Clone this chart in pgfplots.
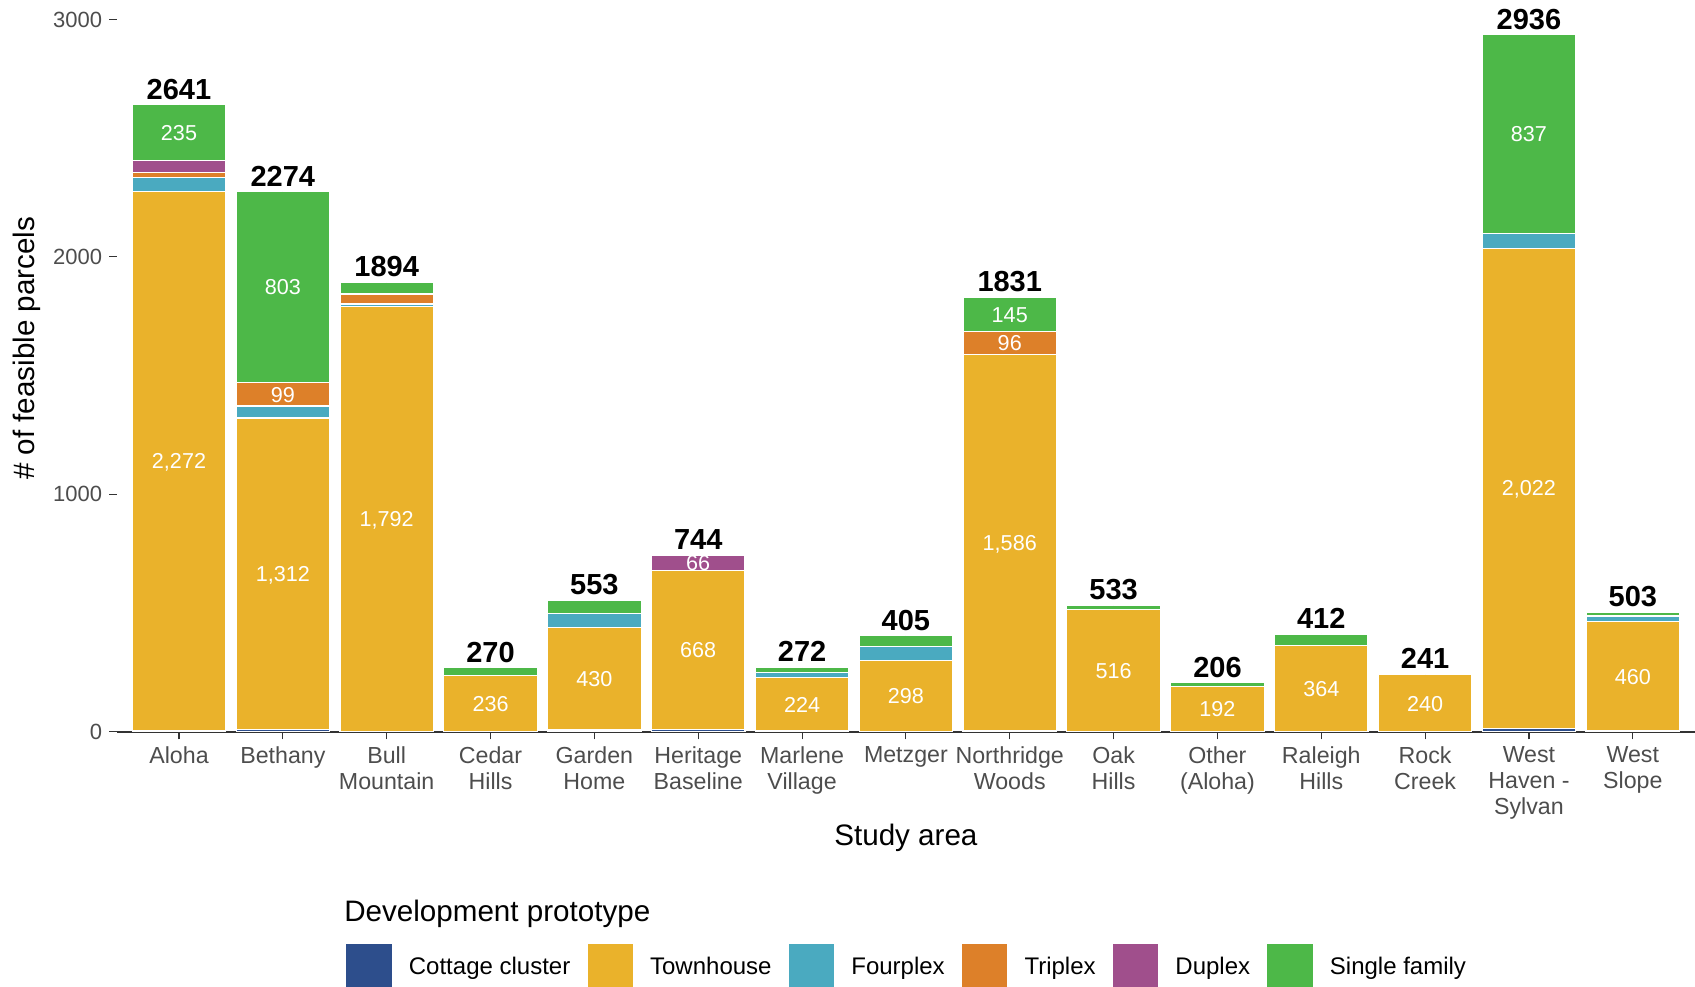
\documentclass[border=0pt]{standalone}
\usepackage{pgfplots}
\pgfplotsset{compat=1.18}
\usepackage{pgfplotstable}
\usepackage{fontspec}
\setmainfont{Liberation Sans}

\definecolor{ccottage}{RGB}{45,78,140}
\definecolor{ctown}{RGB}{234,178,43}
\definecolor{cfour}{RGB}{74,170,192}
\definecolor{ctri}{RGB}{221,128,41}
\definecolor{cdu}{RGB}{160,79,140}
\definecolor{csingle}{RGB}{77,184,72}
\definecolor{tickgray}{RGB}{77,77,77}
\definecolor{axgray}{RGB}{51,51,51}

\pgfplotstableread{
x cottage town four tri du single total
0 5 2272 58 21 50 235 2641
1 10 1312 50 99 0 803 2274
2 0 1792 10 42 0 50 1894
3 0 236 0 0 0 34 270
4 8 430 60 0 0 55 553
5 10 668 0 0 66 0 744
6 4 224 22 0 0 22 272
7 2 298 60 0 0 45 405
8 4 1586 0 96 0 145 1831
9 0 516 0 0 0 17 533
10 0 192 0 0 0 14 206
11 0 364 0 0 0 48 412
12 0 240 0 0 0 1 241
13 15 2022 62 0 0 837 2936
14 3 460 25 0 0 15 503
}\datatable

\pgfplotstableread{
x y label
0 1141 2,272
0 2523.5 235
1 666 1,312
1 1421.5 99
1 1872.5 803
2 896 1,792
3 118 236
4 223 430
5 344 668
5 711 66
6 116 224
7 151 298
8 797 1,586
8 1638 96
8 1758.5 145
9 258 516
10 96 192
11 182 364
12 120 240
13 1026 2,022
13 2517.5 837
14 233 460
}\seglabels

\pgfplotsset{
  commonax/.style={
    width=789.2pt, height=365.9pt, scale only axis,
    xmin=-0.6, xmax=14.6, ymin=0, ymax=3082,
  },
}

\begin{document}
\begin{tikzpicture}
\path[use as bounding box] (-58.35pt,-127.1pt) rectangle (789.15pt,365.9pt);
\begin{axis}[
  commonax,
  ybar stacked,
  bar width=0.9,
  axis x line*=bottom,
  axis y line*=left,
  y axis line style={draw=none},
  x axis line style={draw=axgray, line width=0.8pt},
  tick align=outside,
  major tick length=3.8pt,
  tick style={draw=axgray, line width=0.55pt},
  xtick={0,...,14},
  xticklabels={Aloha, Bethany, {Bull\\Mountain}, {Cedar\\Hills}, {Garden\\Home}, {Heritage\\Baseline}, {Marlene\\Village}, Metzger, {Northridge\\Woods}, {Oak\\Hills}, {Other\\(Aloha)}, {Raleigh\\Hills}, {Rock\\Creek}, {West\\Haven -\\Sylvan}, {West\\Slope}},
  xticklabel style={align=center, font=\fontsize{11.6}{13}\selectfont, text=tickgray},
  ytick={0,1000,2000,3000},
  yticklabel style={font=\fontsize{11}{12}\selectfont, text=tickgray, /pgf/number format/1000 sep={}},
  /pgf/number format/assume math mode=true,
  xlabel={Study area},
  xlabel style={font=\fontsize{14.8}{17}\selectfont, at={(axis description cs:0.5,0)}, anchor=center, yshift=-53pt},
  ylabel={\# of feasible parcels},
  ylabel style={font=\fontsize{14.8}{17}\selectfont, at={(axis description cs:-0.0569,0.524)}, anchor=center, rotate=0},
  every axis plot/.append style={draw=white, line width=0.6pt},
  legend columns=6,
  legend style={at={(axis description cs:0,0)}, anchor=north west, xshift=114.6pt, yshift=-106pt,
    draw=none, fill=none, inner sep=0pt, column sep=0pt,
    nodes={inner sep=0pt, font=\fontsize{12}{14}\selectfont},
    /tikz/every odd column/.append style={column sep=8.6pt},
    /tikz/every even column/.append style={column sep=8.6pt}},
  legend image code/.code={\fill[#1, draw=none] (0pt,-10.5pt) rectangle (22.7pt,11.5pt);},
]
\addplot[fill=ccottage] table[x=x, y=cottage] {\datatable};
\addlegendentry{Cottage cluster}
\addplot[fill=ctown] table[x=x, y=town] {\datatable};
\addlegendentry{Townhouse}
\addplot[fill=cfour] table[x=x, y=four] {\datatable};
\addlegendentry{Fourplex}
\addplot[fill=ctri] table[x=x, y=tri] {\datatable};
\addlegendentry{Triplex}
\addplot[fill=cdu] table[x=x, y=du] {\datatable};
\addlegendentry{Duplex}
\addplot[fill=csingle] table[x=x, y=single] {\datatable};
\addlegendentry{Single family}
\end{axis}
\begin{axis}[
  commonax,
  hide axis,
]
\addplot[only marks, mark=*, mark size=0pt, mark options={draw=none, fill=none},
  point meta=explicit symbolic, nodes near coords,
  every node near coord/.append style={anchor=base, inner sep=0pt, yshift=-3.9pt, text=white, font=\fontsize{10.8}{12}\selectfont}]
  table[x=x, y=y, meta=label] {\seglabels};
\addplot[only marks, mark=*, mark size=0pt, mark options={draw=none, fill=none},
  point meta=explicit symbolic, nodes near coords,
  every node near coord/.append style={anchor=base, inner sep=0pt, yshift=2.8pt, text=black, font=\fontsize{14.5}{17}\selectfont\bfseries}]
  table[x=x, y=total, meta=total] {\datatable};
\end{axis}
\node[anchor=west, inner sep=0pt, font=\fontsize{14.8}{17}\selectfont] at (113.6pt,-90.8pt) {Development prototype};
\end{tikzpicture}
\end{document}
